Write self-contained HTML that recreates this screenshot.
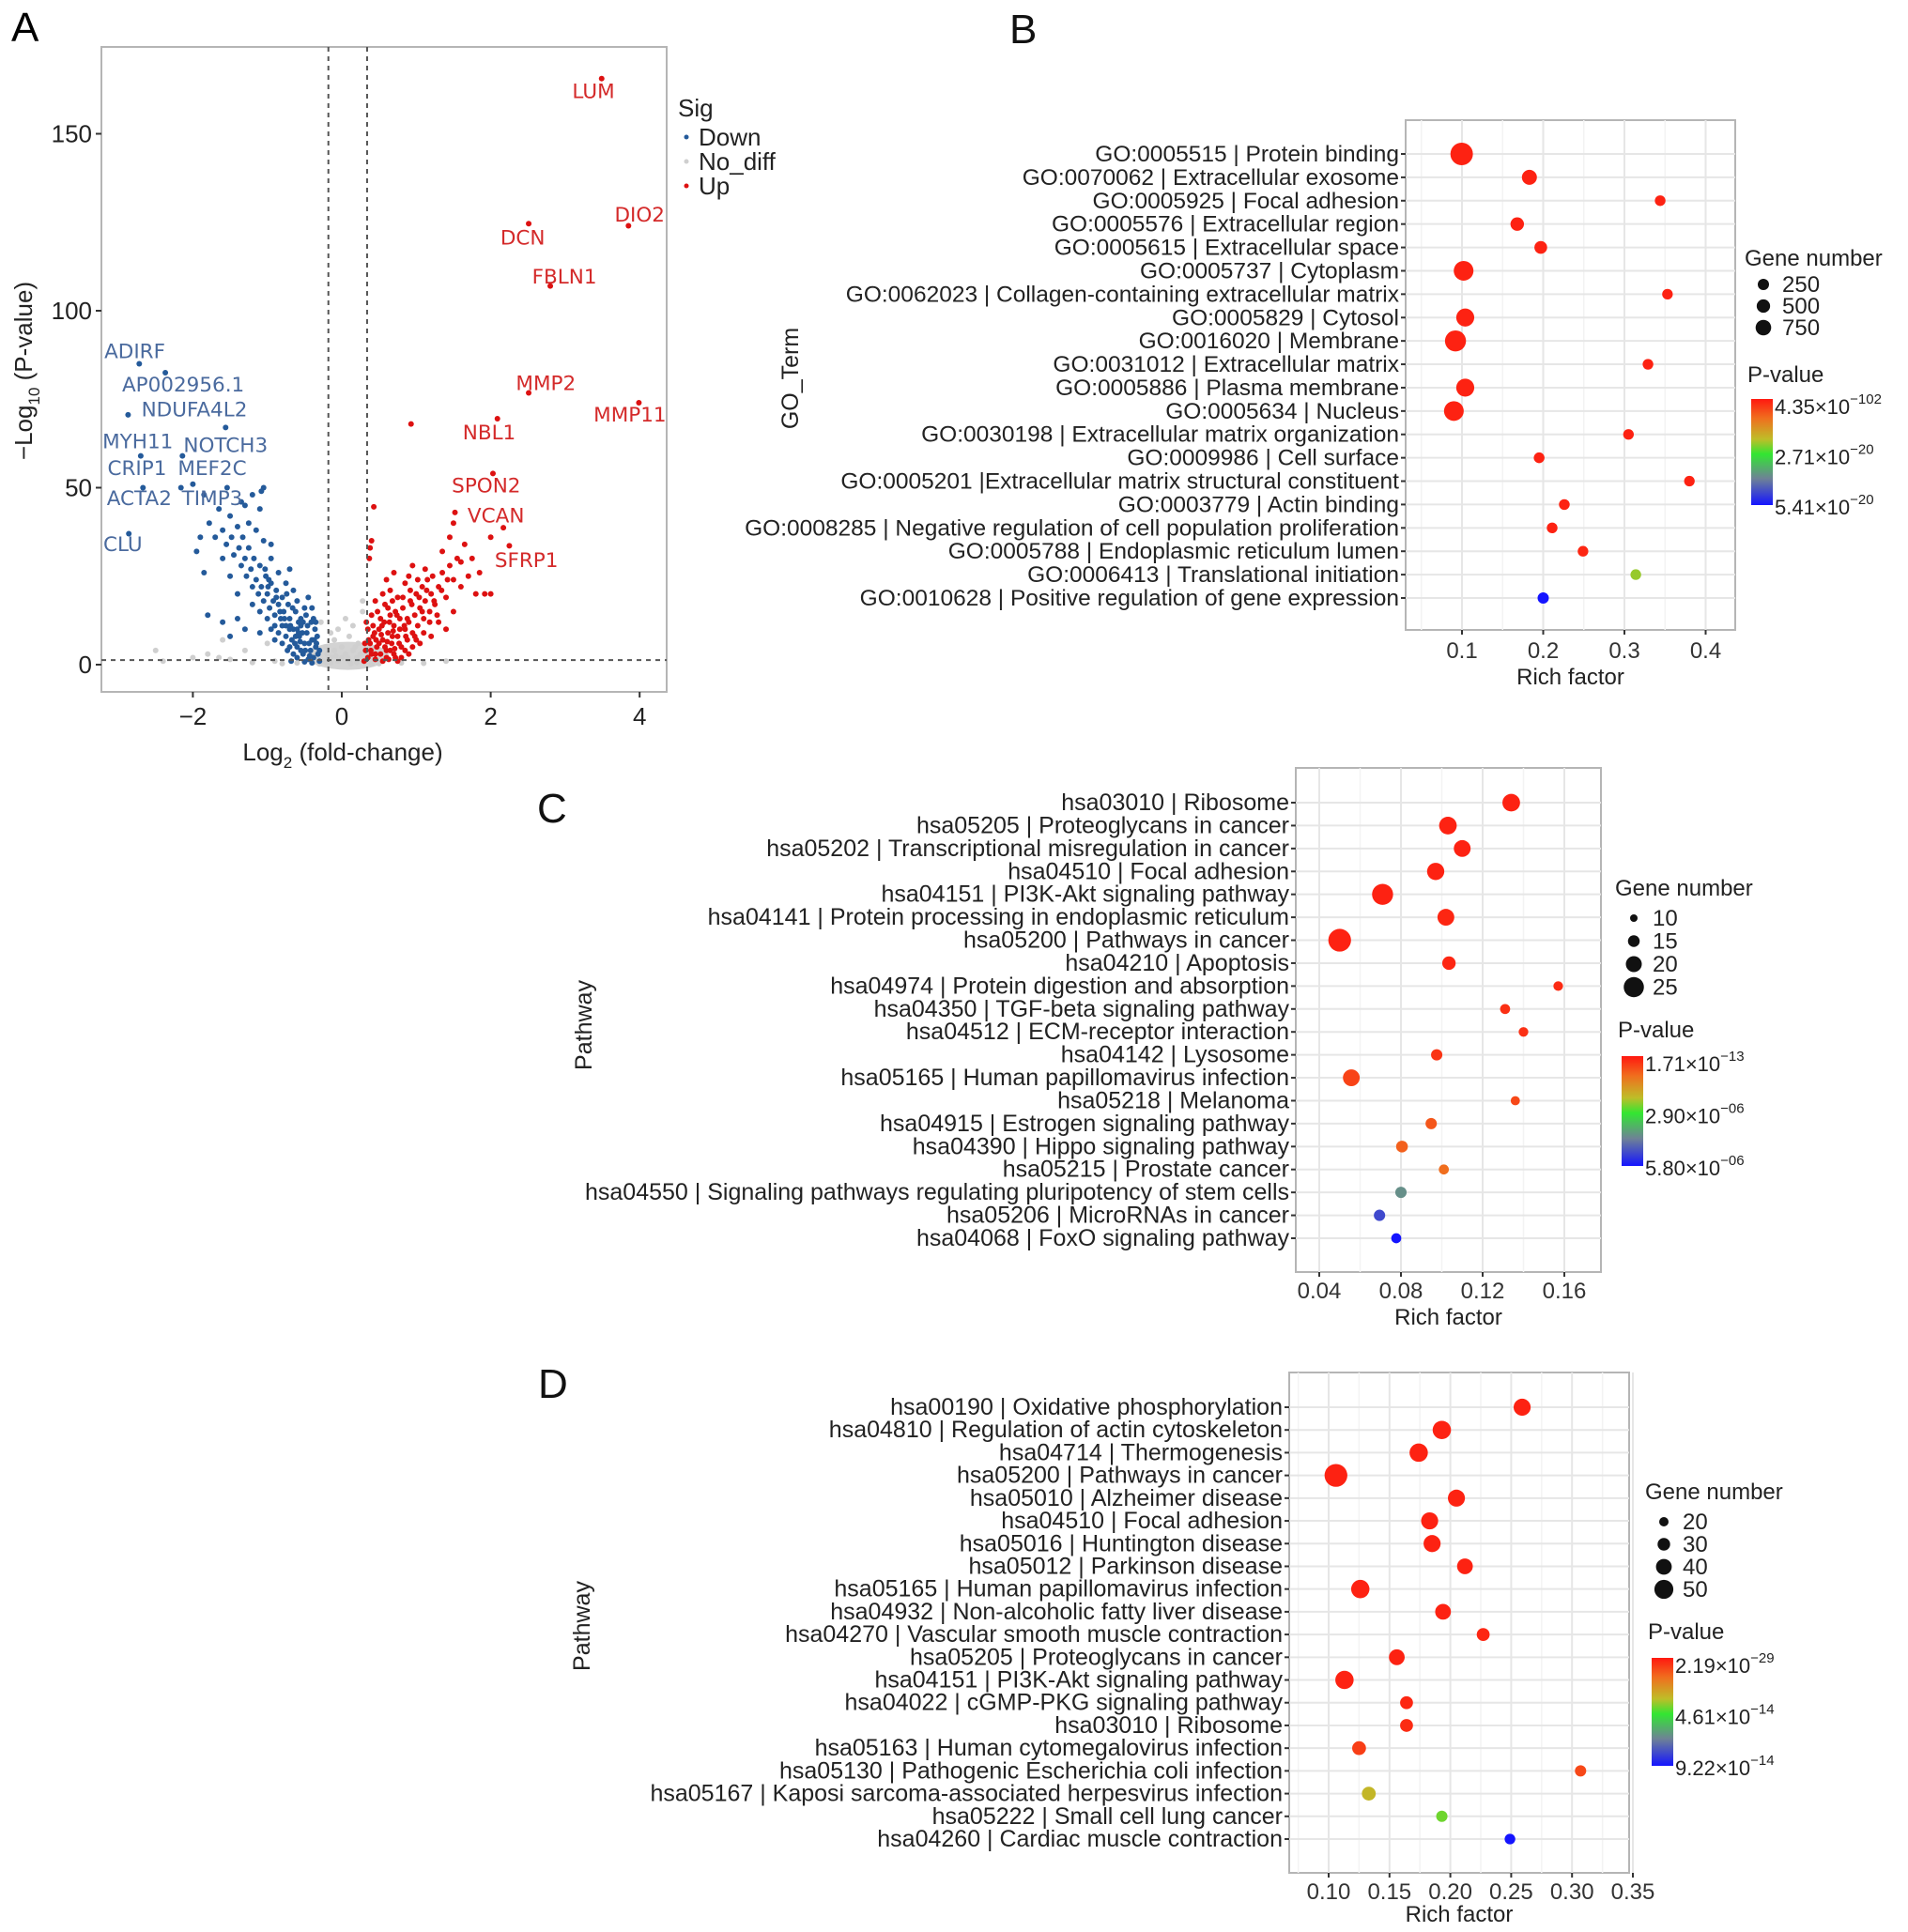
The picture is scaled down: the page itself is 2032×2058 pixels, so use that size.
<!DOCTYPE html>
<html><head><meta charset="utf-8">
<style>
html,body{margin:0;padding:0;background:#fff;}
svg{display:block;font-family:"Liberation Sans",Arial,sans-serif;}
</style></head>
<body>
<svg id="fig" width="2032" height="2058" viewBox="0 0 2032 2058" xmlns="http://www.w3.org/2000/svg"></svg>
<script>
// ---------- Panel A data ----------
const downPts = [[-0.3,1],[-0.32,3],[-0.35,5],[-0.38,2],[-0.4,7],[-0.42,4],[-0.45,1.5],[-0.47,9],[-0.5,6],[-0.52,3],[-0.55,11],[-0.57,8],[-0.6,5],[-0.33,8],[-0.36,10],[-0.41,12],[-0.44,6],[-0.48,14],[-0.53,9],[-0.58,12],[-0.62,15],[-0.65,10],[-0.67,7],[-0.7,13],[-0.72,17],[-0.75,11],[-0.78,15],[-0.8,19],[-0.82,13],[-0.85,17],[-0.88,21],[-0.9,14],[-0.92,18],[-0.95,23],[-0.97,16],[-1.0,20],[-1.02,25],[-1.05,18],[-1.08,22],[-1.1,28],[-1.12,20],[-1.15,24],[-1.18,30],[-1.2,22],[-1.22,27],[-1.25,33],[-1.28,25],[-1.3,30],[-1.33,36],[-1.35,28],[-1.38,33],[-1.4,39],[-1.45,31],[-1.48,36],[-1.5,42],[-1.55,34],[-1.6,38],[-1.65,44],[-1.7,36],[-1.78,40],[-1.9,36],[-1.85,26],[-1.95,32],[-1.3,45],[-1.2,48],[-1.05,50],[-0.95,34],[-0.98,24],[-1.4,20],[-1.5,25],[-1.6,30],[-0.55,4],[-0.6,2],[-0.65,3],[-0.7,5],[-0.75,8],[-0.68,1],[-0.5,0.8],[-0.4,0.5],[-0.8,6],[-0.85,9],[-0.9,7],[-0.73,4],[-0.63,6],[-0.58,9],[-0.46,11],[-0.38,13],[-0.34,6],[-0.7,10],[-0.8,11],[-0.9,11],[-1.0,13],[-1.1,15],[-0.95,10],[-1.2,17],[-0.6,18],[-0.5,16],[-0.4,16],[-0.45,19],[-0.65,21],[-0.75,23],[-0.85,26],[-0.7,27],[-0.95,30],[-1.05,35],[-1.15,38],[-1.25,40],[-1.1,44],[-1.35,46],[-0.55,13],[-0.35,12],[-1.5,8],[-1.8,14],[-1.6,12],[-1.3,10],[-1.1,9],[-1.4,13],[-0.3,4],[-0.37,7],[-0.43,2.5],[-0.49,4],[-0.56,6.5],[-0.62,8],[-0.69,11],[-0.77,13],[-0.83,15],[-0.6,10],[-0.52,12],[-0.66,16],[-0.74,20],[-0.88,19],[-0.99,22],[-1.03,27],
[-2.72,85],[-2.37,82.5],[-2.87,70.6],[-1.56,67],[-2.7,59],[-2.14,59],[-2.67,50],[-2.0,51],[-1.54,50],[-1.08,49],[-2.86,37],[-2.16,50],[-1.85,48]];
const upPts = [[0.3,1],[0.32,4],[0.35,2],[0.38,6],[0.4,3],[0.42,8],[0.45,1.5],[0.47,5],[0.5,10],[0.52,3],[0.55,7],[0.57,12],[0.6,4],[0.62,9],[0.65,14],[0.67,6],[0.7,11],[0.72,2],[0.75,8],[0.78,13],[0.8,5],[0.82,16],[0.85,10],[0.88,7],[0.9,12],[0.92,18],[0.95,9],[0.98,14],[1.0,20],[1.02,11],[1.05,16],[1.08,22],[1.1,13],[1.12,18],[1.15,24],[1.18,15],[1.2,20],[1.25,17],[1.3,22],[1.35,26],[1.4,19],[1.45,28],[1.5,24],[1.55,30],[1.6,22],[1.65,34],[1.45,36],[1.5,40],[1.7,25],[1.8,20],[0.35,10],[0.33,12],[0.4,14],[0.45,18],[0.55,20],[0.6,24],[0.65,21],[0.7,26],[0.75,19],[0.85,23],[0.9,25],[0.37,30],[0.38,33],[0.4,35],[0.45,3],[0.5,6],[0.55,1],[0.6,2],[0.65,4],[0.7,3],[0.75,1],[0.8,2],[0.85,4],[0.9,3],[0.95,5],[1.0,7],[1.05,6],[1.1,9],[0.58,5],[0.68,8],[0.78,10],[0.88,13],[0.98,8],[1.08,15],[1.18,12],[1.28,14],[1.22,25],[1.12,27],[1.3,12],[1.4,10],[1.5,15],[0.42,11],[0.52,13],[0.62,16],[0.72,15],[0.82,19],[0.92,21],[1.02,24],[0.48,15],[0.58,17],[0.68,18],[0.95,28],[1.35,32],[1.6,29],[1.75,30],[1.2,8],[0.36,7],[0.44,9],[0.54,11],[0.64,12],[0.74,14],[0.84,11],[0.94,17],[1.04,19],[1.14,21],[1.24,18],[1.34,21],[1.42,24],[0.31,6],[0.39,4],[0.46,7],[0.53,8.5],[0.61,6.5],[0.69,9.5],[0.77,6],[0.86,8],[0.63,1.5],[0.71,4.5],
[3.49,165.6],[3.85,124],[2.51,124.6],[2.8,107],[2.51,76.8],[3.99,74],[2.09,69.5],[0.93,68],[2.03,54],[1.52,43],[2.17,38.7],[2.0,36],[2.25,33.6],[0.43,44.6],[1.85,26],[1.92,20],[2.0,20]];
const noDiffPts = [[-0.25,1],[-0.2,3],[-0.15,2],[-0.1,4],[-0.05,1],[0,2],[0.05,3],[0.1,1],[0.15,4],[0.2,2],[0.25,3],[-0.22,5],[0.22,6],[-0.1,7],[0.1,8],[0,5],[-0.05,10],[0.05,13],[0.15,11],[-0.15,9],[0.28,15],[0.28,18],[-0.28,12],[-0.6,0.5],[-0.9,1],[-1.2,0.6],[-1.5,1.5],[-1.8,3],[-2.0,2],[-2.5,4],[-2.4,1],[-1.65,2],[-0.8,0.3],[0.5,0.3],[0.8,0.5],[1.1,0.4],[1.4,1],[0.4,0.2],[-0.3,0.2],[-0.15,0.5],[0.12,0.3],[-1.0,6],[-1.3,4],[-1.6,7],[-0.2,0.5],[0.2,0.6],[-0.08,2.5],[0.08,2],[0.18,5]];
const geneLabels = ["LUM","DIO2","DCN","FBLN1","MMP2","MMP11","NBL1","SPON2","VCAN","SFRP1","ADIRF","AP002956.1","NDUFA4L2","MYH11","NOTCH3","CRIP1","MEF2C","ACTA2","TIMP3","CLU"];
const geneLabelFC = [3.38,4.0,2.43,2.99,2.74,3.87,1.98,1.94,2.07,2.48,-2.78,-2.13,-1.98,-2.74,-1.56,-2.75,-1.74,-2.72,-1.74,-2.94];
const geneLabelP  = [162,127,120.5,109.5,79.5,70.5,65.5,50.5,42,29.5,88.5,79,72,63,62,55.5,55.5,47,47,34];
const geneLabelUp = [1,1,1,1,1,1,1,1,1,1,0,0,0,0,0,0,0,0,0,0];
const aXTicks = [-2,0,2,4];
const aYTicks = [0,50,100,150];

// ---------- Panel B data ----------
const bTerms = ["GO:0005515 | Protein binding","GO:0070062 | Extracellular exosome","GO:0005925 | Focal adhesion","GO:0005576 | Extracellular region","GO:0005615 | Extracellular space","GO:0005737 | Cytoplasm","GO:0062023 | Collagen-containing extracellular matrix","GO:0005829 | Cytosol","GO:0016020 | Membrane","GO:0031012 | Extracellular matrix","GO:0005886 | Plasma membrane","GO:0005634 | Nucleus","GO:0030198 | Extracellular matrix organization","GO:0009986 | Cell surface","GO:0005201 |Extracellular matrix structural constituent","GO:0003779 | Actin binding","GO:0008285 | Negative regulation of cell population proliferation","GO:0005788 | Endoplasmic reticulum lumen","GO:0006413 | Translational initiation","GO:0010628 | Positive regulation of gene expression"];
const bRich = [0.0996,0.183,0.344,0.168,0.197,0.102,0.353,0.104,0.092,0.329,0.104,0.09,0.305,0.195,0.38,0.226,0.211,0.249,0.314,0.2];
const bGenes = [1550,680,180,510,420,1230,175,1030,1380,180,1030,1230,175,190,170,190,185,175,180,250];
const bPLevel = [0.02,0.02,0.02,0.02,0.02,0.02,0.02,0.02,0.02,0.02,0.02,0.02,0.02,0.02,0.02,0.02,0.02,0.03,0.42,1.0];
const bXTicks = [0.1,0.2,0.3,0.4];
const bSizeBreaks = [250,500,750];
const bPLabels = [["4.35×10","−102"],["2.71×10","−20"],["5.41×10","−20"]];

// ---------- Panel C data ----------
const cTerms = ["hsa03010 | Ribosome","hsa05205 | Proteoglycans in cancer","hsa05202 | Transcriptional misregulation in cancer","hsa04510 | Focal adhesion","hsa04151 | PI3K-Akt signaling pathway","hsa04141 | Protein processing in endoplasmic reticulum","hsa05200 | Pathways in cancer","hsa04210 | Apoptosis","hsa04974 | Protein digestion and absorption","hsa04350 | TGF-beta signaling pathway","hsa04512 | ECM-receptor interaction","hsa04142 | Lysosome","hsa05165 | Human papillomavirus infection","hsa05218 | Melanoma","hsa04915 | Estrogen signaling pathway","hsa04390 | Hippo signaling pathway","hsa05215 | Prostate cancer","hsa04550 | Signaling pathways regulating pluripotency of stem cells","hsa05206 | MicroRNAs in cancer","hsa04068 | FoxO signaling pathway"];
const cRich = [0.134,0.103,0.110,0.097,0.071,0.102,0.050,0.1035,0.157,0.131,0.140,0.0975,0.0557,0.136,0.0948,0.0805,0.101,0.080,0.0695,0.0777];
const cGenes = [22,22,21,21.5,26,21,28,17,12.5,13,12.5,14.5,21,12,14.5,15,13,14.5,14.5,13];
const cPLevel = [0.02,0.02,0.02,0.02,0.02,0.03,0.02,0.03,0.04,0.05,0.05,0.06,0.09,0.1,0.13,0.15,0.18,0.72,0.88,1.0];
const cXTicks = [0.04,0.08,0.12,0.16];
const cSizeBreaks = [10,15,20,25];
const cPLabels = [["1.71×10","−13"],["2.90×10","−06"],["5.80×10","−06"]];

// ---------- Panel D data ----------
const dTerms = ["hsa00190 | Oxidative phosphorylation","hsa04810 | Regulation of actin cytoskeleton","hsa04714 | Thermogenesis","hsa05200 | Pathways in cancer","hsa05010 | Alzheimer disease","hsa04510 | Focal adhesion","hsa05016 | Huntington disease","hsa05012 | Parkinson disease","hsa05165 | Human papillomavirus infection","hsa04932 | Non-alcoholic fatty liver disease","hsa04270 | Vascular smooth muscle contraction","hsa05205 | Proteoglycans in cancer","hsa04151 | PI3K-Akt signaling pathway","hsa04022 | cGMP-PKG signaling pathway","hsa03010 | Ribosome","hsa05163 | Human cytomegalovirus infection","hsa05130 | Pathogenic Escherichia coli infection","hsa05167 | Kaposi sarcoma-associated herpesvirus infection","hsa05222 | Small cell lung cancer","hsa04260 | Cardiac muscle contraction"];
const dRich = [0.259,0.193,0.174,0.106,0.205,0.183,0.185,0.212,0.126,0.194,0.227,0.156,0.113,0.164,0.164,0.125,0.307,0.133,0.193,0.249];
const dGenes = [44,48,48,62,44,44,44,40,48,40,31,40,48,31,31,34,26,34,26,24];
const dPLevel = [0.02,0.02,0.02,0.02,0.02,0.02,0.02,0.02,0.02,0.02,0.03,0.02,0.02,0.03,0.04,0.08,0.1,0.36,0.46,1.0];
const dXTicks = [0.10,0.15,0.20,0.25,0.30,0.35];
const dSizeBreaks = [20,30,40,50];
const dPLabels = [["2.19×10","−29"],["4.61×10","−14"],["9.22×10","−14"]];

// ---------- helpers ----------
const NS = "http://www.w3.org/2000/svg";
const svg = document.getElementById("fig");
function mk(tag, attrs, parent) {
  const e = document.createElementNS(NS, tag);
  for (const k in attrs) e.setAttribute(k, attrs[k]);
  (parent || svg).appendChild(e);
  return e;
}
function txt(str, attrs, parent) { const t = mk("text", attrs, parent); t.textContent = str; return t; }
const stops = [[0,[255,24,16]],[0.18,[240,110,30]],[0.38,[190,190,40]],[0.52,[50,230,50]],[0.75,[110,130,150]],[1,[20,20,255]]];
function pColor(v) {
  for (let i = 1; i < stops.length; i++) {
    if (v <= stops[i][0]) {
      const a = stops[i-1], b = stops[i], t = (v - a[0]) / (b[0] - a[0]);
      const c = a[1].map((x, j) => Math.round(x + (b[1][j] - x) * t));
      return "rgb(" + c.join(",") + ")";
    }
  }
  return "rgb(20,20,255)";
}
let gid = 0;

// ---------- Panel A ----------
(function () {
  const g = mk("g", {});
  
  
  const L = 108, T = 50, R = 710, B = 737;
  const xS = v => 364 + 79.3 * v;
  const yS = v => 708 - 3.77 * v;
  const lt = txt("A", {x: 12, y: 44, "font-size": 44}, g);
  
  
  const box = mk("rect", {x: L, y: T, width: R - L, height: B - T, fill: "#fff", stroke: "#b5b5b5", "stroke-width": 2}, g);
  
  
  const blob = mk("ellipse", {cx: xS(0.08), cy: yS(2.5), rx: 44, ry: 15, fill: "#d3d3d3"}, g);
  
  
  noDiffPts.forEach(p => {
    const c = mk("circle", {cx: xS(p[0]), cy: yS(p[1]), r: 3, fill: "#cfcfcf"}, g);
    
    
  });
  downPts.forEach(p => {
    const c = mk("circle", {cx: xS(p[0]), cy: yS(p[1]), r: 3, fill: "#245a9a"}, g);
    
    
  });
  upPts.forEach(p => {
    const c = mk("circle", {cx: xS(p[0]), cy: yS(p[1]), r: 3, fill: "#dd1111"}, g);
    
    
  });
  [[xS(-0.18), T, xS(-0.18), B], [xS(0.34), T, xS(0.34), B], [L, yS(1.3), R, yS(1.3)]].forEach(l => {
    const e = mk("line", {x1: l[0], y1: l[1], x2: l[2], y2: l[3], stroke: "#555", "stroke-width": 2, "stroke-dasharray": "5,5"}, g);
    
    
  });
  geneLabels.forEach((s, i) => {
    const t = txt(s, {x: xS(geneLabelFC[i]), y: yS(geneLabelP[i]) + 7, "font-size": 21.5, "text-anchor": "middle", fill: geneLabelUp[i] ? "#d42a2a" : "#4a6a9e", "font-family": "DejaVu Sans, sans-serif"}, g);
    
    
  });
  aXTicks.forEach(v => {
    mk("line", {x1: xS(v), y1: B, x2: xS(v), y2: B + 6, stroke: "#333", "stroke-width": 2}, g);
    const t = txt(v < 0 ? "−" + (-v) : String(v), {x: xS(v), y: B + 35, "font-size": 26, "text-anchor": "middle", fill: "#222"}, g);
    
    
  });
  aYTicks.forEach(v => {
    mk("line", {x1: L - 6, y1: yS(v), x2: L, y2: yS(v), stroke: "#333", "stroke-width": 2}, g);
    const t = txt(String(v), {x: L - 10, y: yS(v) + 9, "font-size": 26, "text-anchor": "end", fill: "#222"}, g);
    
    
  });
  const xt = mk("text", {x: 365, y: 810, "font-size": 26, "text-anchor": "middle", fill: "#222"}, g);
  xt.innerHTML = 'Log<tspan font-size="17" dy="8">2</tspan><tspan dy="-8"> (fold-change)</tspan>';
  
  
  const yt = mk("text", {x: 0, y: 0, "font-size": 26, "text-anchor": "middle", fill: "#222", transform: "translate(34,395) rotate(-90)"}, g);
  yt.innerHTML = '−Log<tspan font-size="17" dy="8">10</tspan><tspan dy="-8"> (P-value)</tspan>';
  
  
  const st = txt("Sig", {x: 722, y: 124, "font-size": 26, fill: "#222"}, g);
  
  
  [["Down", "#245a9a", 146], ["No_diff", "#cfcfcf", 172], ["Up", "#dd1111", 198]].forEach(e => {
    const c = mk("circle", {cx: 731, cy: e[2], r: 2.5, fill: e[1]}, g);
    
    
    const t = txt(e[0], {x: 744, y: e[2] + 9, "font-size": 26, fill: "#222"}, g);
    
    
  });
})();

// ---------- dot plot panels ----------
function dotPanel(cfg, terms, rich, genes, plevel, xTicks, sizeBreaks, pLabels) {
  const g = mk("g", {});
  
  
  const xS = v => cfg.x0 + cfg.k * (v - cfg.v0);
  const n = terms.length;
  const yS = i => cfg.row0 + i * (cfg.rowN - cfg.row0) / (n - 1);
  const rS = v => cfg.r0 + (v - cfg.n0) * cfg.rk;
  const pl = txt(cfg.letter, {x: cfg.lx, y: cfg.ly, "font-size": 44, fill: "#111"}, g);
  
  
  const box = mk("rect", {x: cfg.L, y: cfg.T, width: cfg.R - cfg.L, height: cfg.B - cfg.T, fill: "#fff", stroke: "#b5b5b5", "stroke-width": 2}, g);
  
  
  for (let i = 0; i <= xTicks.length; i++) {
    const step = xTicks[1] - xTicks[0];
    const v = xTicks[0] - step / 2 + i * step;
    const x = xS(v);
    if (x > cfg.L && x < cfg.R) mk("line", {x1: x, y1: cfg.T, x2: x, y2: cfg.B, stroke: "#f3f3f3", "stroke-width": 1.5}, g);
  }
  xTicks.forEach(v => {
    mk("line", {x1: xS(v), y1: cfg.T, x2: xS(v), y2: cfg.B, stroke: "#e6e6e6", "stroke-width": 2}, g);
    mk("line", {x1: xS(v), y1: cfg.B, x2: xS(v), y2: cfg.B + 5, stroke: "#333", "stroke-width": 2}, g);
    const t = txt(cfg.fmt(v), {x: xS(v), y: cfg.B + cfg.tickDy, "font-size": 24, "text-anchor": "middle", fill: "#333"}, g);
    
    
  });
  terms.forEach((s, i) => {
    mk("line", {x1: cfg.L, y1: yS(i), x2: cfg.R, y2: yS(i), stroke: "#e6e6e6", "stroke-width": 2}, g);
    mk("line", {x1: cfg.L - 5, y1: yS(i), x2: cfg.L, y2: yS(i), stroke: "#333", "stroke-width": 2}, g);
    const t = txt(s, {x: cfg.L - 7, y: yS(i) + 8, "font-size": cfg.fs, "text-anchor": "end", fill: "#222"}, g);
    
    
  });
  terms.forEach((s, i) => {
    const c = mk("circle", {cx: xS(rich[i]), cy: yS(i), r: Math.max(3, rS(genes[i])), fill: pColor(plevel[i])}, g);
    
    
  });
  const xt = txt("Rich factor", {x: (cfg.L + cfg.R) / 2, y: cfg.B + cfg.titleDy, "font-size": 24, "text-anchor": "middle", fill: "#222"}, g);
  
  
  const yt = txt(cfg.ytitle, {x: 0, y: 0, "font-size": 25, "text-anchor": "middle", fill: "#222", transform: "translate(" + cfg.ytx + "," + cfg.yty + ") rotate(-90)"}, g);
  
  
  const gt = txt("Gene number", {x: cfg.gx, y: cfg.gy, "font-size": 24, fill: "#222"}, g);
  
  
  sizeBreaks.forEach((b, i) => {
    const y = cfg.gy + cfg.gy1 + i * cfg.gstep;
    const c = mk("circle", {cx: cfg.gx + 20, cy: y, r: rS(b), fill: "#111"}, g);
    
    
    const t = txt(String(b), {x: cfg.gx + 40, y: y + 8, "font-size": 24, fill: "#222"}, g);
    
    
  });
  const pt = txt("P-value", {x: cfg.gx + 3, y: cfg.py, "font-size": 24, fill: "#222"}, g);
  
  
  const id = "grad" + (gid++);
  const defs = mk("defs", {}, g);
  const lg = mk("linearGradient", {id: id, x1: 0, y1: 0, x2: 0, y2: 1}, defs);
  stops.forEach(s => mk("stop", {offset: s[0], "stop-color": "rgb(" + s[1].join(",") + ")"}, lg));
  const cb = mk("rect", {x: cfg.gx + 7, y: cfg.cbT, width: 23, height: cfg.cbB - cfg.cbT, fill: "url(#" + id + ")"}, g);
  
  
  pLabels.forEach((p, i) => {
    const y = cfg.cbT + 8 + i * (cfg.cbB - cfg.cbT - 6) / 2;
    const t = mk("text", {x: cfg.gx + 32, y: y + 8, "font-size": 22, fill: "#222"}, g);
    t.innerHTML = p[0] + '<tspan font-size="15" dy="-11">' + p[1] + '</tspan>';
    
    
  });
}

dotPanel({name: "go-enrichment-plot", letter: "B", lx: 1075, ly: 46, L: 1497, T: 128, R: 1848, B: 671,
  x0: 1557, v0: 0.1, k: 865, row0: 164, rowN: 637, r0: 6, n0: 250, rk: 0.0046, fs: 24.5,
  fmt: v => v.toFixed(1), tickDy: 30, titleDy: 58, ytitle: "GO_Term", ytx: 850, yty: 403,
  gx: 1858, gy: 283, gy1: 20, gstep: 23, py: 407, cbT: 425, cbB: 538},
  bTerms, bRich, bGenes, bPLevel, bXTicks, bSizeBreaks, bPLabels);

dotPanel({name: "kegg-enrichment-plot-c", letter: "C", lx: 572, ly: 876, L: 1380, T: 818, R: 1705, B: 1355,
  x0: 1405, v0: 0.04, k: 2175, row0: 855, rowN: 1319, r0: 4, n0: 10, rk: 0.45, fs: 25,
  fmt: v => v.toFixed(2), tickDy: 28, titleDy: 56, ytitle: "Pathway", ytx: 630, yty: 1092,
  gx: 1720, gy: 954, gy1: 24, gstep: 24.5, py: 1105, cbT: 1125, cbB: 1242},
  cTerms, cRich, cGenes, cPLevel, cXTicks, cSizeBreaks, cPLabels);

dotPanel({name: "kegg-enrichment-plot-d", letter: "D", lx: 573, ly: 1489, L: 1373, T: 1462, R: 1735, B: 1995,
  x0: 1415, v0: 0.1, k: 1296, row0: 1499, rowN: 1959, r0: 5, n0: 20, rk: 0.17, fs: 25,
  fmt: v => v.toFixed(2), tickDy: 28, titleDy: 52, ytitle: "Pathway", ytx: 628, yty: 1732,
  gx: 1752, gy: 1597, gy1: 24, gstep: 24, py: 1746, cbT: 1766, cbB: 1881},
  dTerms, dRich, dGenes, dPLevel, dXTicks, dSizeBreaks, dPLabels);
</script>
</body></html>
